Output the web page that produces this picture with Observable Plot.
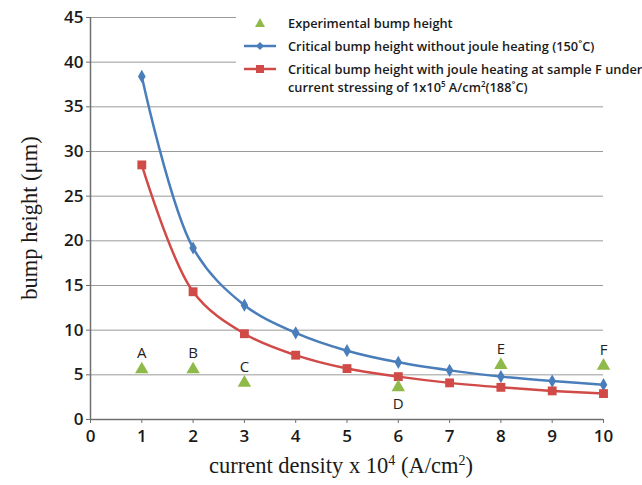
<!DOCTYPE html>
<html><head><meta charset="utf-8">
<script src="https://cdn.jsdelivr.net/npm/d3@7"></script>
<script src="https://cdn.jsdelivr.net/npm/@observablehq/plot@0.6"></script>
<style>
body{margin:0;background:#fff;}
#wrap{position:relative;width:642px;height:485px;overflow:hidden;}
#legend{position:absolute;left:236px;top:8px;width:390px;height:94px;background:#fff;font-family:"Open Sans",sans-serif;font-size:12.8px;font-weight:600;color:#1a1a1a;}
.li{position:absolute;left:0;white-space:nowrap;line-height:18px;}
.li svg{position:absolute;left:4px;top:0;}
.li span{position:absolute;left:52px;top:0;line-height:18px;}
sup{line-height:0;vertical-align:0;position:relative;}
.ttl{position:absolute;font-family:"Liberation Serif",serif;font-size:22.5px;color:#1a1a1a;white-space:nowrap;}
</style></head>
<body><div id="wrap"></div>
<script>
const currentDensity = [1,2,3,4,5,6,7,8,9,10];
const critNoJoule = [38.4,19.2,12.8,9.7,7.7,6.4,5.5,4.8,4.3,3.9];
const critJoule = [28.5,14.3,9.6,7.2,5.7,4.8,4.1,3.6,3.2,2.9];
const expX = [1,2,3,6,8,10];
const expY = [5.6,5.6,4.1,3.6,6.1,6.0];
const expLabels = ["A","B","C","D","E","F"];
const expLabelSide = ["above","above","above","below","above","above"];
const yTicks = [0,5,10,15,20,25,30,35,40,45];
const xTicks = [0,1,2,3,4,5,6,7,8,9,10];
const legendLabels = ["Experimental bump height","Critical bump height without joule heating (150˚C)","Critical bump height with joule heating at sample F under<br>current stressing of 1x10<sup style=\"font-size:8px;top:-5px\">5</sup> A/cm<sup style=\"font-size:8px;top:-5px\">2</sup>(188˚C)"];
const xTitle = "current density x 10<sup style=\"font-size:14px;top:-8px\">4</sup> (A/cm<sup style=\"font-size:14px;top:-8px\">2</sup>)";
const yTitle = "bump height (μm)";

const BLUE="#4a7ebb", RED="#d04a48", GREEN="#8fba4a";

const blue = currentDensity.map((x,i)=>({x,y:critNoJoule[i]}));
const red = currentDensity.map((x,i)=>({x,y:critJoule[i]}));
const exp = expX.map((x,i)=>({x,y:expY[i],label:expLabels[i],side:expLabelSide[i]}));

const chart = Plot.plot({
  width:642,height:485,
  marginLeft:90,marginRight:39,marginTop:17,marginBottom:66,
  x:{domain:[0,10]},
  y:{domain:[0,45]},
  style:{fontFamily:"'Open Sans',sans-serif",fontSize:"14px",color:"#222",background:"#fff"},
  marks:[
    Plot.gridY(yTicks.filter(d=>d>0),{stroke:"#9a9a9a",strokeOpacity:1,strokeWidth:1}),
    Plot.ruleX([0],{stroke:"#6f6f6f",strokeWidth:1.5}),
    Plot.ruleY([0],{stroke:"#6f6f6f",strokeWidth:1.5}),
    Plot.axisY(yTicks,{tickSize:4,tickPadding:3,stroke:"#6f6f6f",label:null,fontSize:17,fontWeight:600,fill:"#1a1a1a"}),
    Plot.axisX(xTicks,{tickSize:4,tickPadding:6,stroke:"#6f6f6f",label:null,fontSize:17,fontWeight:600,fill:"#1a1a1a"}),
    Plot.line(blue,{x:"x",y:"y",stroke:BLUE,strokeWidth:2.5,curve:"catmull-rom"}),
    Plot.line(red,{x:"x",y:"y",stroke:RED,strokeWidth:2.5,curve:"catmull-rom"}),
    Plot.dot(blue,{x:"x",y:"y",symbol:"diamond",r:4,fill:BLUE}),
    Plot.dot(red,{x:"x",y:"y",symbol:"square",r:5,fill:RED}),
    Plot.dot(exp,{x:"x",y:"y",symbol:"triangle",r:5,fill:GREEN}),
    Plot.text(exp.filter(d=>d.side==="above"),{x:"x",y:"y",text:"label",dy:-16,fontSize:15,fill:"#222"}),
    Plot.text(exp.filter(d=>d.side==="below"),{x:"x",y:"y",text:"label",dy:17,fontSize:15,fill:"#222"})
  ]
});
const wrap=document.getElementById("wrap");
wrap.appendChild(chart);

// legend
const lg=document.createElement("div");lg.id="legend";
const markers=[
  `<svg width="40" height="18"><path d="M20,4 L25,13 L15,13 Z" fill="${GREEN}"/></svg>`,
  `<svg width="40" height="18"><line x1="4" y1="9" x2="36" y2="9" stroke="${BLUE}" stroke-width="2.5"/><path d="M20,5 L24,9 L20,13 L16,9 Z" fill="${BLUE}"/></svg>`,
  `<svg width="40" height="18"><line x1="4" y1="9" x2="36" y2="9" stroke="${RED}" stroke-width="2.5"/><rect x="16" y="5" width="8" height="8" fill="${RED}"/></svg>`
];
const tops=[6,29,52];
legendLabels.forEach((t,i)=>{
  const d=document.createElement("div");d.className="li";d.style.top=tops[i]+"px";
  d.innerHTML=markers[i]+`<span>${t}</span>`;lg.appendChild(d);
});
wrap.appendChild(lg);

const xt=document.createElement("div");xt.className="ttl";xt.innerHTML=xTitle;
xt.style.left="341px";xt.style.top="453px";xt.style.transform="translateX(-50%)";wrap.appendChild(xt);
const yt=document.createElement("div");yt.className="ttl";yt.textContent=yTitle;
yt.style.left="30px";yt.style.top="218px";yt.style.transform="translate(-50%,-50%) rotate(-90deg)";wrap.appendChild(yt);
</script></body></html>
